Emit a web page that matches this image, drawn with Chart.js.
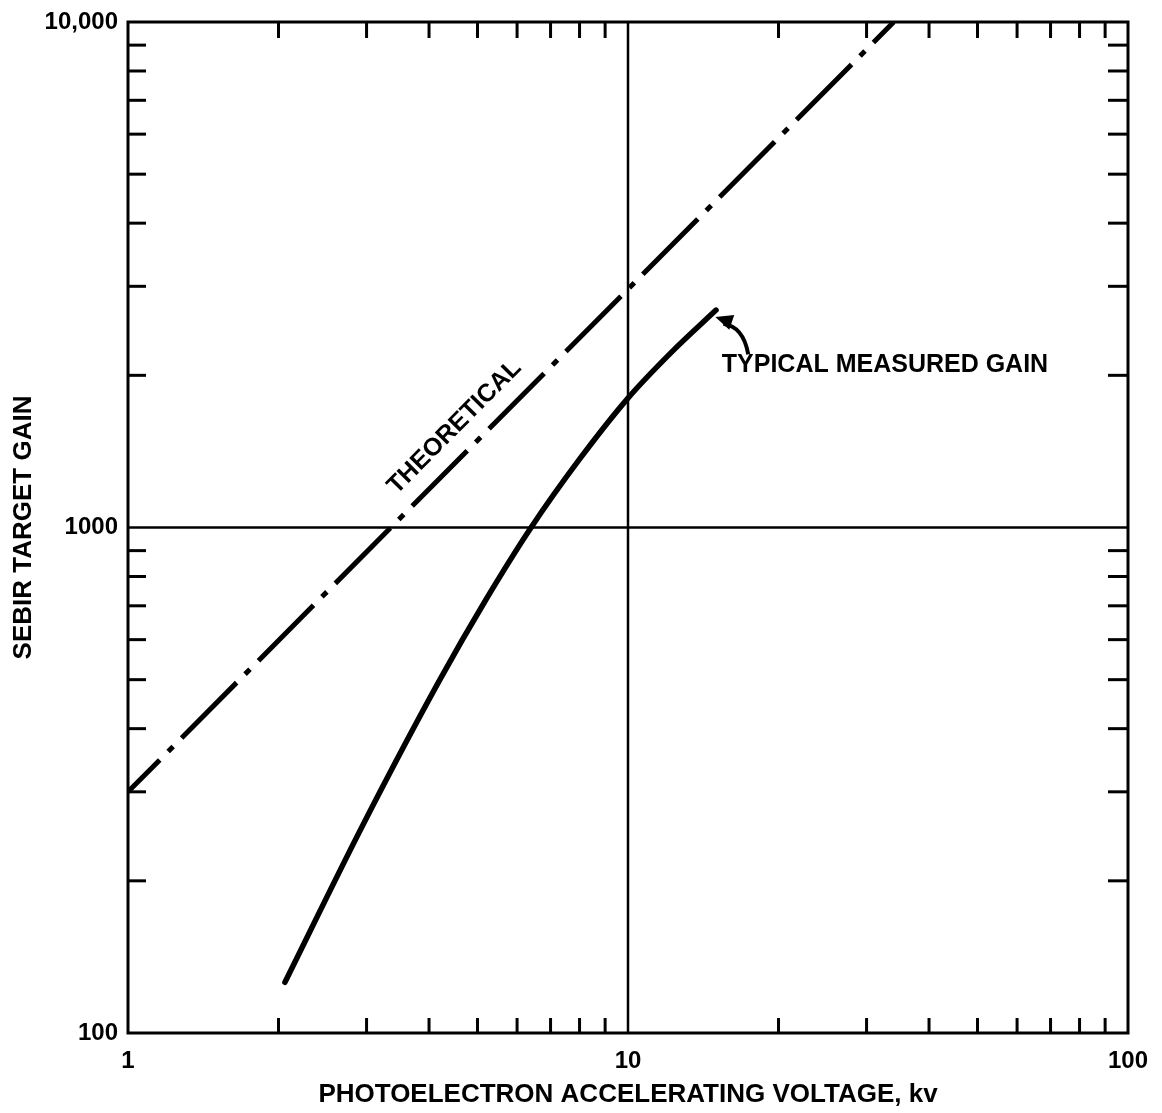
<!DOCTYPE html>
<html><head><meta charset="utf-8">
<script src="https://cdn.jsdelivr.net/npm/chart.js@4"></script>
<style>html,body{margin:0;padding:0;background:#fff}</style>
</head><body>
<canvas id="c" width="1162" height="1113"></canvas>
<script>
// ---- data ----
const xTickValues = [1, 10, 100];
const xTickLabels = ['1', '10', '100'];
const yTickValues = [100, 1000, 10000];
const yTickLabels = ['100', '1000', '10,000'];
const xMinorTicks = [2,3,4,5,6,7,8,9,20,30,40,50,60,70,80,90];
const yMinorTicks = [200,300,400,500,600,700,800,900,2000,3000,4000,5000,6000,7000,8000,9000];
const majorGridX = [10];
const majorGridY = [1000];
const theoreticalX = [1, 34];
const theoreticalY = [300, 10000];
const measuredX = [2.06, 2.95, 4.2, 5.19, 6.4, 8.0, 10, 12.25, 15];
const measuredY = [126, 258, 499, 718, 1000, 1365, 1803, 2228, 2692];
const xTitle = 'PHOTOELECTRON ACCELERATING VOLTAGE, kv';
const yTitle = 'SEBIR TARGET GAIN';
const theoreticalLabel = 'THEORETICAL';
const measuredLabel = 'TYPICAL MEASURED GAIN';

const FONT = "'Liberation Sans', Arial, sans-serif";

// annotation anchors (data units)
const anno = {
  theoretical: {x: 4.5, y: 1580},
  measured: {x: 15.4, y: 2097},
  arrowTail: {x: 17.4, y: 2200},
  arrowCtrl: {x: 17.0, y: 2500},
  arrowTip: {x: 14.95, y: 2610}
};

const framePlugin = {
  id: 'frame',
  beforeDatasetsDraw(chart) {
    const {ctx, chartArea: a, scales: {x, y}} = chart;
    ctx.save();
    ctx.strokeStyle = '#000';
    ctx.lineCap = 'butt';
    ctx.lineWidth = 2.5;
    majorGridX.forEach(v => { const px = x.getPixelForValue(v); ctx.beginPath(); ctx.moveTo(px, a.top); ctx.lineTo(px, a.bottom); ctx.stroke(); });
    majorGridY.forEach(v => { const py = y.getPixelForValue(v); ctx.beginPath(); ctx.moveTo(a.left, py); ctx.lineTo(a.right, py); ctx.stroke(); });
    ctx.lineWidth = 3;
    xMinorTicks.forEach(v => {
      const px = x.getPixelForValue(v);
      ctx.beginPath(); ctx.moveTo(px, a.bottom); ctx.lineTo(px, a.bottom - 15); ctx.stroke();
      ctx.beginPath(); ctx.moveTo(px, a.top); ctx.lineTo(px, a.top + 16); ctx.stroke();
    });
    yMinorTicks.forEach(v => {
      const py = y.getPixelForValue(v);
      ctx.beginPath(); ctx.moveTo(a.left, py); ctx.lineTo(a.left + 18, py); ctx.stroke();
      ctx.beginPath(); ctx.moveTo(a.right, py); ctx.lineTo(a.right - 20, py); ctx.stroke();
    });
    ctx.lineWidth = 3;
    ctx.strokeRect(a.left, a.top, a.right - a.left, a.bottom - a.top);
    ctx.restore();
  },
  afterDatasetsDraw(chart) {
    const {ctx, scales: {x, y}} = chart;
    ctx.save();
    ctx.fillStyle = '#000';
    ctx.strokeStyle = '#000';
    const p0x = x.getPixelForValue(theoreticalX[0]), p0y = y.getPixelForValue(theoreticalY[0]);
    const p1x = x.getPixelForValue(theoreticalX[1]), p1y = y.getPixelForValue(theoreticalY[1]);
    const ang = Math.atan2(p1y - p0y, p1x - p0x);
    ctx.translate(x.getPixelForValue(anno.theoretical.x), y.getPixelForValue(anno.theoretical.y));
    ctx.rotate(ang);
    ctx.font = 'bold 25px ' + FONT;
    ctx.textAlign = 'center';
    ctx.textBaseline = 'middle';
    ctx.fillText(theoreticalLabel, 0, 0);
    ctx.setTransform(1, 0, 0, 1, 0, 0);
    ctx.font = 'bold 25px ' + FONT;
    ctx.textAlign = 'left';
    ctx.textBaseline = 'middle';
    ctx.fillText(measuredLabel, x.getPixelForValue(anno.measured.x), y.getPixelForValue(anno.measured.y));
    const tx = x.getPixelForValue(anno.arrowTail.x), ty = y.getPixelForValue(anno.arrowTail.y);
    const cx = x.getPixelForValue(anno.arrowCtrl.x), cy = y.getPixelForValue(anno.arrowCtrl.y);
    const hx = x.getPixelForValue(anno.arrowTip.x), hy = y.getPixelForValue(anno.arrowTip.y);
    ctx.lineWidth = 4;
    ctx.beginPath(); ctx.moveTo(tx, ty); ctx.quadraticCurveTo(cx, cy, hx + 8, hy + 7); ctx.stroke();
    const a2 = Math.atan2(hy - cy, hx - cx);
    ctx.beginPath();
    ctx.moveTo(hx, hy);
    ctx.lineTo(hx - 19 * Math.cos(a2 - 0.42), hy - 19 * Math.sin(a2 - 0.42));
    ctx.lineTo(hx - 19 * Math.cos(a2 + 0.42), hy - 19 * Math.sin(a2 + 0.42));
    ctx.closePath(); ctx.fill();
    ctx.restore();
  }
};

new Chart(document.getElementById('c'), {
  type: 'line',
  data: {
    datasets: [
      {
        label: 'Theoretical',
        data: theoreticalX.map((v, i) => ({x: v, y: theoreticalY[i]})),
        borderColor: '#000', borderWidth: 5,
        borderDash: [78, 12, 7, 12], borderDashOffset: 33,
        pointRadius: 0, fill: false
      },
      {
        label: 'Typical measured gain',
        data: measuredX.map((v, i) => ({x: v, y: measuredY[i]})),
        borderColor: '#000', borderWidth: 5.5,
        cubicInterpolationMode: 'monotone', borderCapStyle: 'round',
        pointRadius: 0, fill: false
      }
    ]
  },
  options: {
    responsive: false,
    devicePixelRatio: 1,
    animation: false,
    layout: {padding: {top: 22, right: 34, left: 0, bottom: 0}},
    plugins: {legend: {display: false}, tooltip: {enabled: false}},
    scales: {
      x: {
        type: 'logarithmic', min: 1, max: 100,
        grid: {display: false}, border: {display: false},
        afterBuildTicks: s => { s.ticks = xTickValues.map(v => ({value: v})); },
        afterFit: s => { s.height = 80; },
        ticks: {
          autoSkip: false, maxRotation: 0, padding: 6, color: '#000',
          font: {family: FONT, size: 24, weight: 'bold'},
          callback: (v) => { const i = xTickValues.indexOf(v); return i >= 0 ? xTickLabels[i] : ''; }
        },
        title: {display: true, text: xTitle, color: '#000', font: {family: FONT, size: 26, weight: 'bold'}, padding: {top: 0, bottom: 3}}
      },
      y: {
        type: 'logarithmic', min: 100, max: 10000,
        grid: {display: false}, border: {display: false},
        afterBuildTicks: s => { s.ticks = yTickValues.map(v => ({value: v})); },
        afterFit: s => { s.width = 128; },
        ticks: {
          autoSkip: false, padding: 2, color: '#000',
          font: {family: FONT, size: 24, weight: 'bold'},
          callback: (v) => { const i = yTickValues.indexOf(v); return i >= 0 ? yTickLabels[i] : ''; }
        },
        title: {display: true, text: yTitle, color: '#000', font: {family: FONT, size: 26, weight: 'bold'}, padding: {top: 8, bottom: 0}}
      }
    }
  },
  plugins: [framePlugin]
});
</script>
</body></html>
